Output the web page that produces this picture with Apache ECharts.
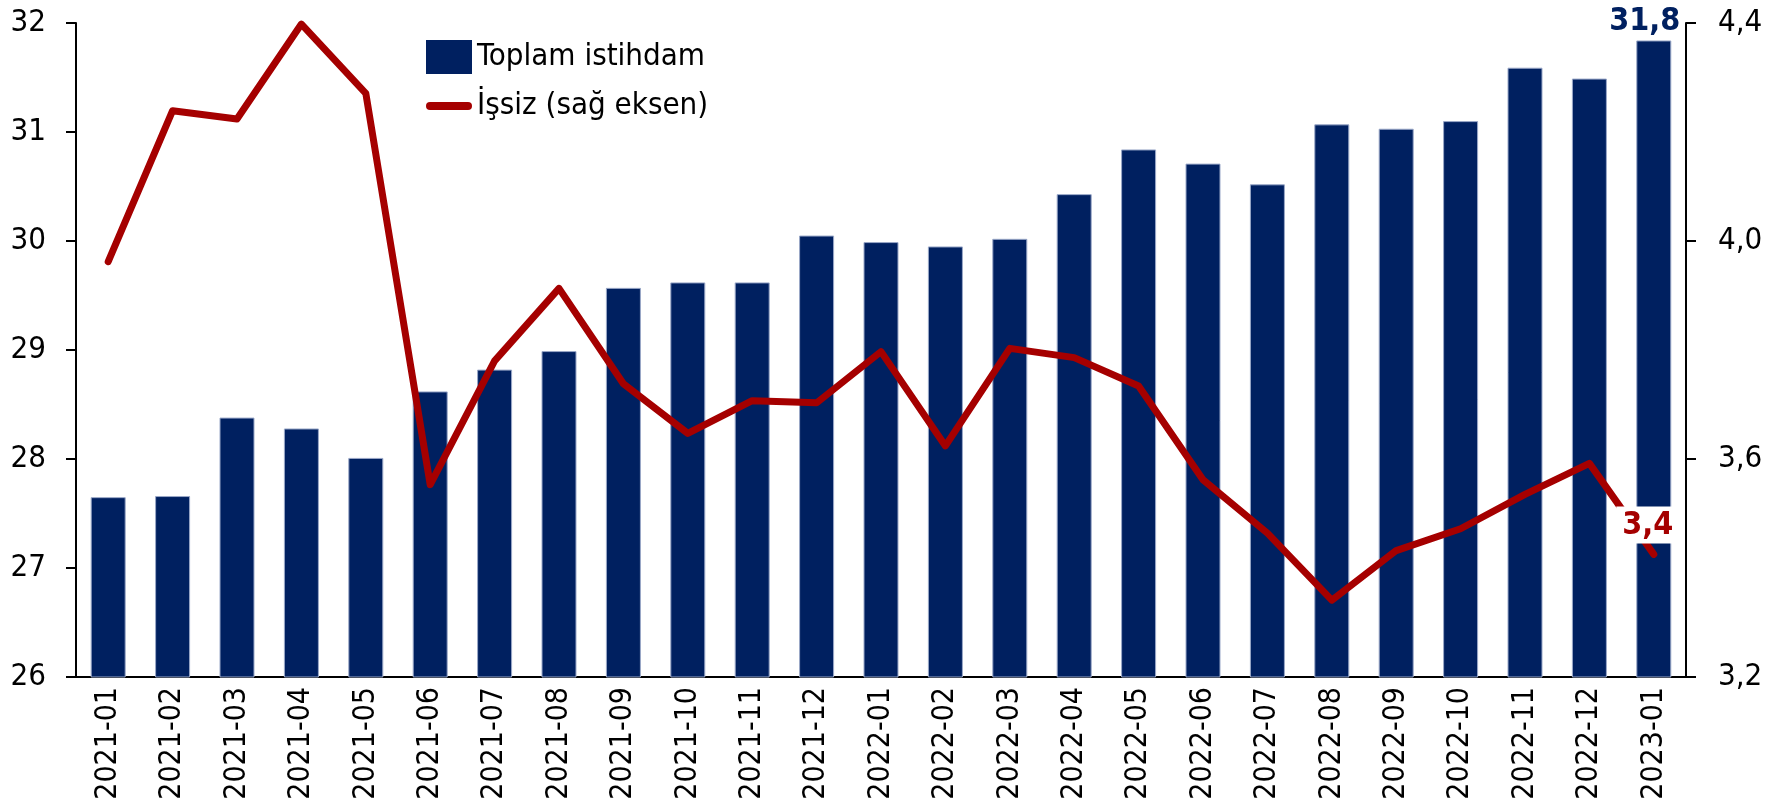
<!DOCTYPE html>
<html>
<head>
<meta charset="utf-8">
<script src="https://cdn.jsdelivr.net/npm/echarts@6.0.0/dist/echarts.min.js"></script>
<style>
html,body{margin:0;padding:0;background:#fff;}
#chart{width:1779px;height:807px;}
</style>
</head>
<body>
<div id="chart"></div>
<script>
var months=['2021-01','2021-02','2021-03','2021-04','2021-05','2021-06','2021-07','2021-08','2021-09','2021-10','2021-11','2021-12',
  '2022-01','2022-02','2022-03','2022-04','2022-05','2022-06','2022-07','2022-08','2022-09','2022-10','2022-11','2022-12','2023-01'];
// toplam istihdam (milyon, sol eksen)
var istihdam=[27.65,27.66,28.38,28.28,28.01,28.62,28.82,28.99,29.57,29.62,29.62,30.05,
  29.99,29.95,30.02,30.43,30.84,30.71,30.52,31.07,31.03,31.10,31.59,31.49,31.84];
// issiz (milyon, sag eksen)
var issiz=[3.962,4.239,4.224,4.398,4.271,3.553,3.780,3.913,3.738,3.647,3.707,3.703,
  3.797,3.624,3.803,3.786,3.734,3.562,3.464,3.341,3.432,3.472,3.535,3.592,3.425];
var leftTicks=[26,32,1];
var rightTicks=[3.2,4.4,0.4];

var font="'DejaVu Sans Condensed','DejaVu Sans',sans-serif";
function tr(v){return v.toFixed(1).replace('.',',');}

var barData=istihdam.map(function(v,i){
  if(i==istihdam.length-1){
    return {value:v,label:{show:true,position:'top',distance:3,offset:[-9,0],fontFamily:font,fontWeight:'bold',fontSize:32,color:'#002060',formatter:function(p){return tr(p.value);}}};
  }
  return v;
});
var lineData=issiz.map(function(v,i){
  if(i==issiz.length-1){
    return {value:v,label:{show:true,position:'top',distance:11,offset:[-6,0],fontFamily:font,fontWeight:'bold',fontSize:32,color:'#A50000',
      backgroundColor:'#fff',padding:[3,6,2,6],formatter:function(p){return tr(p.value);}}};
  }
  return v;
});

var mychart=echarts.init(document.getElementById('chart'));
option={
  animation:false,
  textStyle:{fontFamily:font},
  grid:{left:76,right:93,top:23,bottom:130,outerBoundsMode:'none'},
  legend:{
    orient:'vertical',
    left:421,
    top:35,
    itemWidth:46,
    itemHeight:34,
    itemGap:15,
    textStyle:{fontFamily:font,fontSize:31,color:'#000'},
    data:[
      {name:'Toplam istihdam',icon:'rect',itemStyle:{borderWidth:0}},
      {name:'İşsiz (sağ eksen)',icon:'path://M0,0 M46,34 M4,13 L42,13 A4,4 0 0 1 42,21 L4,21 A4,4 0 0 1 4,13 Z',itemStyle:{color:'#A50000'}}
    ]
  },
  xAxis:{
    type:'category',
    data:months,
    axisLine:{lineStyle:{color:'#000',width:2}},
    axisTick:{show:false},
    axisLabel:{rotate:90,margin:10,fontSize:30,color:'#000',fontFamily:font,interval:0}
  },
  yAxis:[
    {
      type:'value',min:leftTicks[0],max:leftTicks[1],interval:leftTicks[2],
      axisLine:{show:true,lineStyle:{color:'#000',width:2}},
      axisTick:{show:true,length:10,lineStyle:{color:'#000',width:2}},
      splitLine:{show:false},
      axisLabel:{margin:30,fontSize:31,color:'#000',fontFamily:font}
    },
    {
      type:'value',min:rightTicks[0],max:rightTicks[1],interval:rightTicks[2],
      position:'right',
      axisLine:{show:true,lineStyle:{color:'#000',width:2}},
      axisTick:{show:true,length:10,lineStyle:{color:'#000',width:2}},
      splitLine:{show:false},
      axisLabel:{margin:32,fontSize:31,color:'#000',fontFamily:font,formatter:function(v){return tr(v);}}
    }
  ],
  series:[
    {
      name:'Toplam istihdam',
      type:'bar',
      yAxisIndex:0,
      barWidth:35,
      data:barData,
      itemStyle:{color:'#002060',borderColor:'#9aa8c8',borderWidth:1}
    },
    {
      name:'İşsiz (sağ eksen)',
      type:'line',
      yAxisIndex:1,
      symbol:'circle',
      symbolSize:0,
      showSymbol:true,
      data:lineData,
      itemStyle:{color:'#A50000'},
      lineStyle:{color:'#A50000',width:7,cap:'round',join:'round'},
      z:5
    }
  ]
};
mychart.setOption(option);
</script>
</body>
</html>
